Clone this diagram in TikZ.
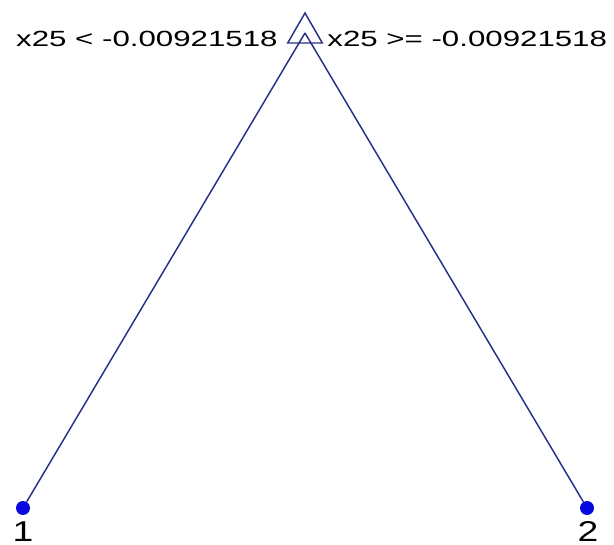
\documentclass[tikz,border=0pt]{standalone}
\usepackage{fontspec}
\setmainfont{Liberation Sans}
\usetikzlibrary{shapes.geometric}
\definecolor{edgeblue}{RGB}{38,48,132}
\definecolor{leafblue}{RGB}{8,8,225}

\begin{document}
\begin{tikzpicture}[
  x=0.75pt, y=-0.75pt,
  split/.style={regular polygon, regular polygon sides=3, draw=edgeblue, line width=1.1pt, inner sep=0pt, minimum size=30pt},
  leaf/.style={circle, fill=leafblue, inner sep=0pt, minimum size=10.5pt},
  rule/.style={inner sep=0pt, xscale=1.42, font=\fontsize{16.5}{19}\selectfont},
  leaflabel/.style={inner sep=0pt, anchor=base, xscale=1.3, font=\fontsize{21.5}{25}\selectfont},
  edge/.style={draw=edgeblue, line width=1.1pt}
]
\useasboundingbox (0,0) rectangle (614,545);
\node[split] (root) at (305,33) {};
\node[leaf] (leafone) at (23,508) {};
\node[leaf] (leaftwo) at (587,508) {};
\node[rule, anchor=base east] (ruleleft) at (278,47) {x25 < -0.00921518};
\node[rule, anchor=base west] (ruleright) at (327,47) {x25 >= -0.00921518};
\node[leaflabel] (labelone) at (23,541) {1};
\node[leaflabel] (labeltwo) at (588,541) {2};

\draw[edge] (root.center) -- (leafone);
\draw[edge] (root.center) -- (leaftwo);
\end{tikzpicture}
\end{document}
